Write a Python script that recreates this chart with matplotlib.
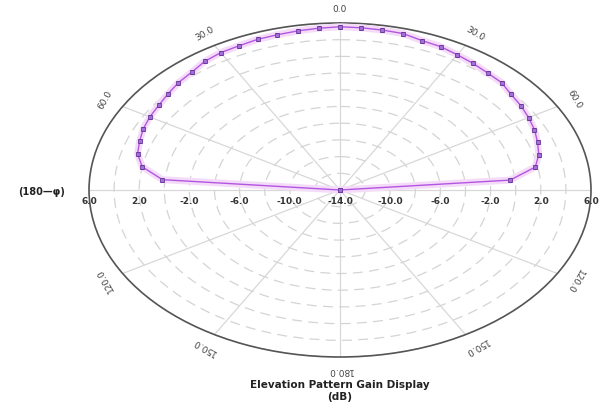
import numpy as np
import matplotlib
matplotlib.use("Agg")
import matplotlib.pyplot as plt

# elevation pattern, angle from zenith (deg) and gain (dB)
theta_deg = [-90, -85, -80, -75, -70, -65, -60, -55, -50, -45, -40, -35, -30,
             -25, -20, -15, -10, -5, 0, 5, 10, 15, 20, 25, 30, 35, 40, 45,
             50, 55, 60, 65, 70, 75, 80, 85, 90]
gain_db = [-14.0, 0.2, 2.0, 2.7, 3.0, 3.3, 3.5, 3.65, 3.9, 4.2, 4.4, 4.8, 5.0,
           5.05, 5.2, 5.25, 5.35, 5.45, 5.55, 5.5, 5.45, 5.4, 5.05, 4.95, 4.7,
           4.5, 4.3, 4.2, 3.8, 3.6, 3.35, 3.1, 2.75, 2.4, 1.8, -0.4, -14.0]

r_min, r_max = -14, 6
ring_values = [-12, -10, -8, -6, -4, -2, 0, 2, 4, 6]
r_label_values = [6, 2, -2, -6, -10]
angle_label_pos = [0, 30, 60, 120, 150, 180, -150, -120, -60, -30]
angle_label_text = ["0.0", "30.0", "60.0", "120.0", "150.0", "180.0",
                    "150.0", "120.0", "60.0", "30.0"]

plt.rcParams["font.family"] = ["DejaVu Sans"]

fig = plt.figure(figsize=(6.11, 4.13), dpi=100)
ax = fig.add_axes([89 / 611, 56 / 413, 502 / 611, 334 / 413], projection="polar")
ax.set_aspect("auto")
ax.set_theta_zero_location("N")
ax.set_theta_direction(-1)
ax.set_rlim(r_min, r_max)

ax.set_thetagrids(np.arange(0, 360, 30), labels=[])
ax.set_rgrids(ring_values, labels=[])
ax.xaxis.grid(True, color="#d8d8d8", linestyle="-", linewidth=0.9)
ax.yaxis.grid(True, color="#d4d4d4", linestyle=(0, (8, 5)), linewidth=0.9)
ax.spines["polar"].set_color("#555555")
ax.spines["polar"].set_linewidth(1.2)
ax.tick_params(length=0)

th = np.deg2rad(theta_deg)
ax.plot(th, gain_db, color="#f4dcf8", linewidth=5, solid_capstyle="round", zorder=3)
ax.plot(th, gain_db, color="#b455e2", linewidth=1.0, marker="s", markersize=2.4,
        markerfacecolor="#a070d8", markeredgecolor="#6a3a9a", markeredgewidth=0.6,
        zorder=4)

# angle labels, rotated along the rim
for a, s in zip(angle_label_pos, angle_label_text):
    ax.text(np.deg2rad(a), r_max + 1.6, s, rotation=-a, rotation_mode="anchor",
            ha="center", va="center", fontsize=6.5, color="#444444")

# gain labels along the horizontal axis
for v in r_label_values:
    for side in (-90, 90):
        ax.annotate(f"{v:.1f}", (np.deg2rad(side), v), xytext=(0, -8),
                    textcoords="offset points", ha="center", va="center",
                    fontsize=6.5, fontweight="bold", color="#333333")
ax.annotate(f"{r_min:.1f}", (0, r_min), xytext=(0, -8), textcoords="offset points",
            ha="center", va="center", fontsize=6.5, fontweight="bold", color="#333333")

fig.text(42 / 611, 1 - 192 / 413, "(180\u2014\u03c6)", ha="center", va="center",
         fontsize=7, fontweight="bold", color="#222222")
fig.text(340 / 611, 1 - 385 / 413, "Elevation Pattern Gain Display", ha="center",
         va="center", fontsize=7.5, fontweight="bold", color="#222222")
fig.text(340 / 611, 1 - 397 / 413, "(dB)", ha="center", va="center",
         fontsize=7.5, fontweight="bold", color="#222222")

fig.savefig("out.png", dpi=100)
